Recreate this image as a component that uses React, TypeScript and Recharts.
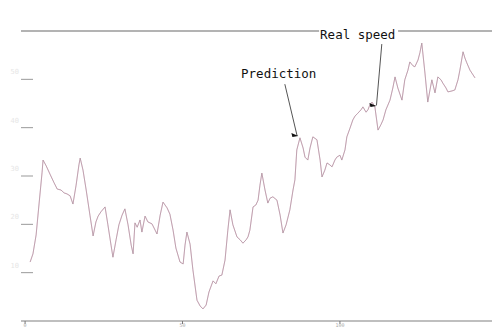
import React from "react";
import {
  LineChart,
  Line,
  XAxis,
  YAxis,
  ReferenceLine,
  ReferenceDot,
} from "recharts";

// sample time (x) and measured speed (y)
const time = [
  1.6, 2.5, 3.5, 4.4, 5.4, 5.7, 6.7, 7.9, 9.2, 10.2, 11.4, 12.4, 13.3, 14.3,
  15.2, 16.2, 17.1, 17.5, 18.4, 19.4, 20.6, 21.6, 22.5, 23.2, 24.1, 25.4, 26.3,
  27.3, 27.9, 28.9, 29.8, 30.8, 31.7, 32.7, 33.7, 34.3, 34.9, 35.6, 36.5, 37.1,
  38.1, 39.0, 40.3, 41.3, 41.9, 42.9, 43.8, 45.1, 46.0, 47.0, 47.9, 49.2, 50.2,
  50.8, 51.4, 52.4, 53.3, 54.6, 55.6, 56.5, 57.5, 58.4, 59.7, 60.6, 61.6, 62.5,
  63.5, 64.4, 65.1, 66.0, 67.3, 68.3, 69.2, 70.2, 70.8, 71.4, 72.4, 73.3, 74.0,
  74.6, 75.2, 76.2, 77.1, 77.8, 78.7, 80.0, 81.0, 81.9, 82.9, 84.1, 85.1, 85.7,
  86.3, 87.3, 88.3, 88.9, 89.8, 90.5, 91.4, 92.7, 93.7, 94.3, 95.2, 95.9, 96.8,
  97.5, 98.4, 99.0, 100.0, 100.6, 101.6, 102.2, 103.2, 104.1, 104.8, 105.7,
  106.7, 107.3, 108.3, 108.9, 109.5, 110.2, 111.1, 112.1, 113.0, 113.7, 114.6,
  115.9, 116.8, 117.5, 118.4, 119.7, 120.6, 121.6, 122.2, 123.2, 123.8, 124.8,
  125.4, 126.0, 127.0, 127.9, 128.6, 129.2, 130.2, 131.1, 132.1, 132.7, 133.7,
  134.3, 135.6, 136.5, 137.5, 138.1, 139.1, 139.7, 140.3, 141.3, 141.9, 142.9,
];

const speed = [
  12.2, 13.9, 17.8, 24.0, 30.8, 33.3, 32.1, 30.4, 28.6, 27.3, 27.1, 26.5, 26.3,
  25.9, 24.2, 28.1, 32.3, 33.7, 31.2, 27.1, 21.9, 17.6, 20.5, 21.7, 22.6, 23.6,
  19.9, 15.7, 13.2, 16.8, 19.9, 21.9, 23.2, 19.9, 15.7, 13.9, 20.3, 19.4, 20.9,
  18.4, 21.7, 20.5, 20.1, 18.8, 18.0, 21.9, 24.6, 23.4, 22.1, 18.8, 15.1, 12.2,
  11.8, 15.7, 18.4, 15.9, 10.6, 4.3, 3.1, 2.5, 3.3, 6.0, 8.3, 7.7, 9.3, 9.5,
  12.6, 18.8, 23.0, 19.9, 17.4, 16.8, 16.1, 16.8, 17.4, 18.8, 23.6, 24.0, 25.0,
  28.1, 30.6, 27.1, 24.4, 25.4, 25.7, 25.0, 21.9, 18.2, 19.9, 23.0, 27.1, 29.2,
  35.4, 37.9, 35.8, 33.9, 33.3, 35.8, 38.1, 37.5, 33.3, 29.8, 31.2, 32.7, 32.3,
  31.9, 33.3, 33.9, 34.3, 33.3, 35.4, 38.1, 39.9, 41.6, 42.4, 43.0, 43.7, 44.3,
  43.2, 43.7, 44.7, 45.3, 44.3, 39.5, 40.6, 41.6, 43.7, 45.7, 48.2, 50.5, 48.2,
  45.7, 49.9, 51.9, 53.6, 52.8, 52.6, 54.0, 55.5, 57.5, 51.3, 45.3, 47.8, 49.9,
  47.2, 50.5, 49.9, 49.2, 48.2, 47.4, 47.6, 47.8, 49.9, 51.9, 55.7, 54.4, 53.4,
  51.9, 51.3, 50.3,
];

const yTicks = [0, 10, 20, 30, 40, 50, 60];
const xTicks = [0, 50, 100];

const data = time.map((t, i) => ({ t, speed: speed[i] }));

const font = "'DejaVu Sans Mono', monospace";

const LeftTick = ({ x, y, payload }: any) => {
  if (payload.value === 0 || payload.value === 60) return null;
  return (
    <g>
      <line x1={x} x2={x + 12} y1={y} y2={y} stroke="#999" strokeWidth={1} />
      <text x={x - 2} y={y - 5} fontSize={7} fill="#e6e6e6" textAnchor="end" fontFamily={font}>
        {payload.value}
      </text>
    </g>
  );
};

const RightTick = ({ x, y, payload }: any) => {
  if (payload.value === 0 || payload.value === 60) return null;
  return <line x1={x - 4} x2={x} y1={y} y2={y} stroke="#aaa" strokeWidth={1} />;
};

const BottomTick = ({ x, y, payload }: any) => (
  <g>
    <line x1={x} x2={x} y1={y} y2={y + 3} stroke="#777" strokeWidth={1} />
    <text x={x} y={y + 6} fontSize={5} fill="#aaa" textAnchor="middle" fontFamily={font}>
      {payload.value}
    </text>
  </g>
);

const Arrowhead = ({ cx, cy }: any) => (
  <path d={`M${cx},${cy} L${cx - 7},${cy - 3} L${cx - 6},${cy + 1} Z`} fill="#111" />
);

const Note = (text: string, boxed: boolean) => ({ cx, cy }: any) => (
  <g>
    {boxed && <rect x={cx - 1} y={cy - 11} width={79} height={14} fill="#fff" />}
    <text x={cx} y={cy} fontSize={12.5} fontFamily={font} fill="#111">
      {text}
    </text>
  </g>
);

export default function App() {
  return (
    <div style={{ position: "absolute", left: 0, top: 0, background: "#fff" }}>
      <LineChart
        width={493}
        height={329}
        data={data}
        margin={{ top: 31, right: 0, bottom: 0, left: 0 }}
      >
        <XAxis
          dataKey="t"
          type="number"
          domain={[-1.3, 148.3]}
          ticks={xTicks}
          height={8}
          axisLine={{ stroke: "#aaa", strokeWidth: 1.5 }}
          tickLine={false}
          tickSize={0}
          tickMargin={0}
          tick={<BottomTick />}
        />
        <YAxis
          yAxisId="l"
          domain={[0, 60]}
          ticks={yTicks}
          width={21}
          axisLine={false}
          tickLine={false}
          tickSize={0}
          tickMargin={0}
          tick={<LeftTick />}
        />
        <YAxis
          yAxisId="r"
          orientation="right"
          domain={[0, 60]}
          ticks={yTicks}
          width={1}
          axisLine={false}
          tickLine={false}
          tickSize={0}
          tickMargin={0}
          tick={<RightTick />}
        />
        <ReferenceLine yAxisId="l" y={60} stroke="#9a9a9a" strokeWidth={1.5} />
        <Line
          yAxisId="l"
          dataKey="speed"
          name="Prediction"
          stroke="#e8b4cc"
          strokeWidth={1}
          dot={false}
          isAnimationActive={false}
        />
        <Line
          yAxisId="l"
          dataKey="speed"
          name="Real speed"
          stroke="#8e8e8e"
          strokeOpacity={0.5}
          strokeWidth={0.9}
          dot={false}
          isAnimationActive={false}
        />
        {/* annotation arrows */}
        <ReferenceLine
          yAxisId="l"
          segment={[{ x: 82.5, y: 49.0 }, { x: 86.4, y: 38.3 }]}
          stroke="#555"
          strokeWidth={1}
          ifOverflow="visible"
        />
        <ReferenceDot yAxisId="l" x={86.8} y={38.3} ifOverflow="visible" shape={<Arrowhead />} />
        <ReferenceLine
          yAxisId="l"
          segment={[{ x: 113.3, y: 57.3 }, { x: 111.6, y: 44.6 }]}
          stroke="#555"
          strokeWidth={1}
          ifOverflow="visible"
        />
        <ReferenceDot yAxisId="l" x={111.6} y={44.5} ifOverflow="visible" shape={<Arrowhead />} />
        <ReferenceDot
          yAxisId="l"
          x={68.6}
          y={50.3}
          ifOverflow="visible"
          shape={Note("Prediction", false)}
        />
        <ReferenceDot
          yAxisId="l"
          x={93.7}
          y={58.3}
          ifOverflow="visible"
          shape={Note("Real speed", true)}
        />
      </LineChart>
    </div>
  );
}
